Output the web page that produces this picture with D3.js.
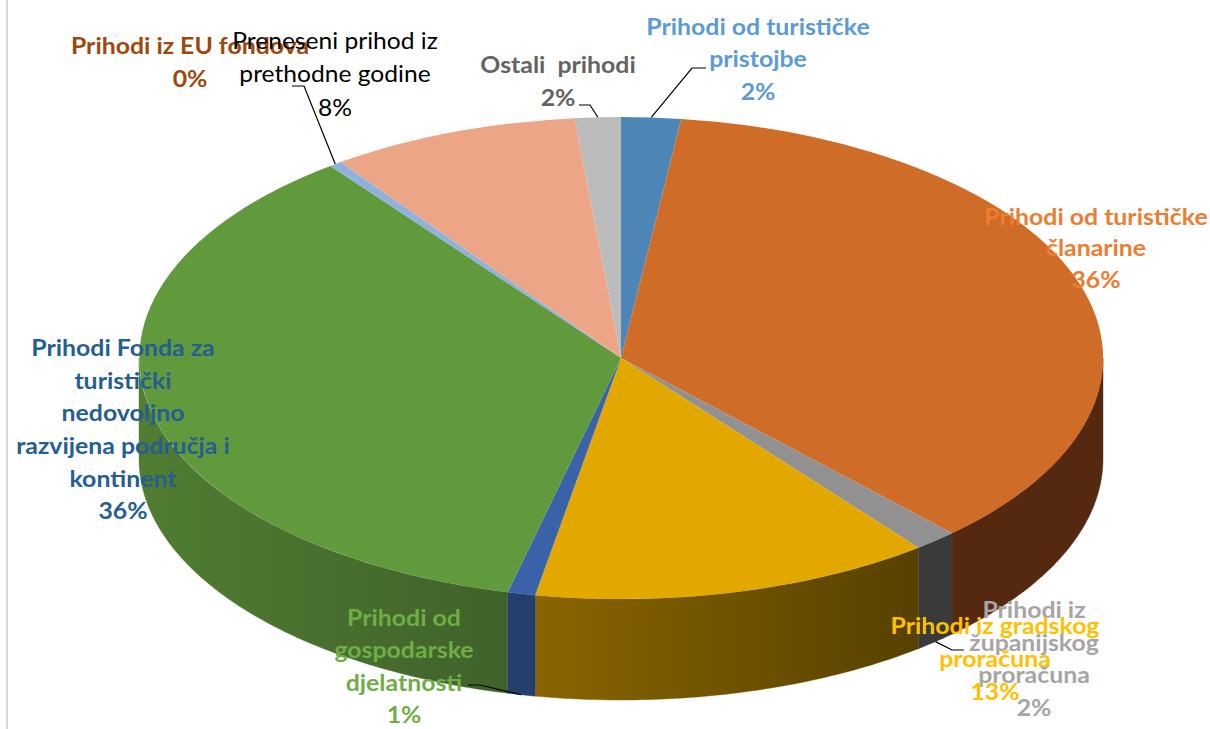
<!DOCTYPE html>
<html><head><meta charset="utf-8">
<script src="https://cdn.jsdelivr.net/npm/d3@7/dist/d3.min.js"></script>
<style>html,body{margin:0;padding:0;background:#fff}svg{display:block}text{font-family:Lato,sans-serif}</style>
</head><body><svg id="c" width="1210" height="729"></svg>
<script>
// Data (percent shares, clockwise from 12 o'clock)
const categories = ["Prihodi od turističke pristojbe","Prihodi od turističke članarine","Prihodi iz županijskog proračuna","Prihodi iz gradskog proračuna","Prihodi od gospodarske djelatnosti","Prihodi Fonda za turistički nedovoljno razvijena područja i kontinent","Prihodi iz EU fondova","Preneseni prihod iz prethodne godine","Ostali prihodi"];
const values = [2.0,35.95,1.47,13.43,0.93,35.91,0.42,8.36,1.53];
const pctLabels = ["2%","36%","2%","13%","1%","36%","0%","8%","2%"];
const topColors = ["#4f86b8","#cf6c28","#919191","#e2a800","#3a62a8","#61993d","#8fb1dc","#eca687","#bbbbbb"];
const wallLeft  = ["#2f5070","#55290f","#3a3a3a","#8a6500","#243e6e","#517d32","#56708c","#8a6048","#6e6e6e"];
const wallRight = ["#2f5070","#55290f","#3a3a3a","#574100","#243e6e","#40622a","#56708c","#8a6048","#6e6e6e"];
const textColors = ["#5b9bd5","#ed7d31","#a5a5a5","#ffc000","#70ad47","#255e91","#9e480e","#000000","#636363"];
const labelLines = [
 ["Prihodi od turističke","pristojbe"],["Prihodi od turističke","članarine"],["Prihodi iz","županijskog","proračuna"],
 ["Prihodi iz gradskog","proračuna"],["Prihodi od","gospodarske","djelatnosti"],
 ["Prihodi Fonda za","turistički","nedovoljno","razvijena područja i","kontinent"],["Prihodi iz EU fondova"],
 ["Preneseni prihod iz","prethodne godine"],["Ostali  prihodi"]];
// label layout: centre x, first-line baseline y, line step
const labelLayout = [[758,35,32.5],[1096,225,31.5],[1034,618,32.7],[995,634,33],[404,626,32.5],[123,356,32.7],[190,54,33],[335,49,33.5],[558,73,33]];
// leaders: [slice index, on bottom rim?, elbow points]
const leaders = [
 {i:0,wall:false,pts:[[692,68],[706,68]]},
 {i:8,wall:false,pts:[[590,105],[579,105]]},
 {i:6,wall:false,pts:[[304,86],[292,86]]},
 {i:2,wall:true,pts:[[952,650],[964,650]]},
 {i:4,wall:true,pts:[[480,685],[468,685]]}
];
const cx=621, cy=358, rx=482, ry=241, depth=101;

const svg=d3.select("#c");
const defs=svg.append("defs");
const arcs=d3.pie().sort(null).value(d=>d)(values);
const X=d3.scaleLinear().domain([0,1]).range([cx,cx+rx]);
const Y=d3.scaleLinear().domain([0,1]).range([cy,cy+ry]);
const px=(a,dz=0)=>[X(Math.sin(a)),Y(-Math.cos(a))+dz];

// chart frame sliver
svg.append("line").attr("x1",7).attr("x2",7).attr("y1",0).attr("y2",729).attr("stroke","#d9d9d9").attr("stroke-width",2);

// walls
const line=d3.line();
const front=[];
arcs.forEach((d,i)=>{
  const a0=Math.max(d.startAngle,Math.PI/2), a1=Math.min(d.endAngle,Math.PI*1.5);
  if(a1<=a0) return;
  const n=Math.max(4,Math.ceil((a1-a0)*90));
  const ang=d3.range(n+1).map(k=>a0+(a1-a0)*k/n);
  const pts=ang.map(a=>px(a,0)).concat(ang.slice().reverse().map(a=>px(a,depth)));
  const xs=pts.map(p=>p[0]);
  const id="w"+i;
  const g=defs.append("linearGradient").attr("id",id).attr("gradientUnits","userSpaceOnUse")
    .attr("x1",d3.min(xs)).attr("x2",d3.max(xs)).attr("y1",0).attr("y2",0);
  g.append("stop").attr("offset",0).attr("stop-color",wallLeft[i]);
  g.append("stop").attr("offset",1).attr("stop-color",wallRight[i]);
  front.push({d:line(pts)+"Z",fill:`url(#${id})`});
});
svg.append("g").selectAll("path").data(front).join("path").attr("d",d=>d.d).attr("fill",d=>d.fill).attr("stroke",d=>d.fill).attr("stroke-width",.4);

// top face: unit d3.arc scaled to the ellipse
svg.append("g").attr("transform",`translate(${cx},${cy}) scale(${rx},${ry})`)
 .selectAll("path").data(arcs).join("path")
 .attr("d",d3.arc().innerRadius(0).outerRadius(1))
 .attr("fill",(d,i)=>topColors[i]);

// leaders
svg.append("g").selectAll("path").data(leaders).join("path")
 .attr("fill","none").attr("stroke","#000").attr("stroke-width",1.2)
 .attr("d",l=>{const d=arcs[l.i];const s=px((d.startAngle+d.endAngle)/2,l.wall?depth:0);return line([s,...l.pts]);});

// labels
const L=svg.append("g").attr("text-anchor","middle").attr("font-size",23);
categories.forEach((c,i)=>{
  const [x,y,dy]=labelLayout[i];
  const lines=labelLines[i].concat(pctLabels[i]);
  const t=L.append("text").attr("fill",textColors[i]).attr("font-weight",i===7?400:700)
    .attr("transform",`translate(${x},0) scale(${i===7?1.07:1.08},1)`);
  lines.forEach((s,k)=>t.append("tspan").attr("x",0).attr("y",y+k*dy).style("white-space","pre").text(s));
});
</script></body></html>
